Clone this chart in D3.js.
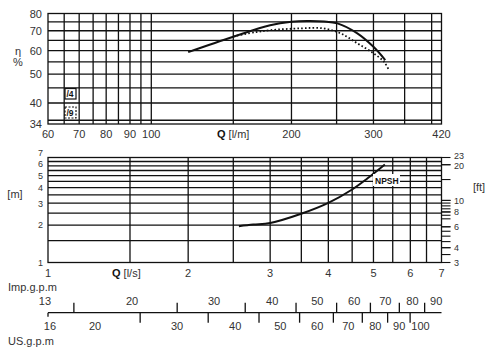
<!DOCTYPE html>
<html lang="en">
<head>
<meta charset="utf-8">
<title>Pump curves</title>
<script src="https://d3js.org/d3.v7.min.js"></script>
<style>
  body { margin: 0; background: #fff; }
  text { font-family: "Liberation Sans", Arial, sans-serif; font-size: 11px; fill: #333; }
  .grid { stroke: #111; stroke-width: 1.3; fill: none; }
  .small { font-size: 8.5px; font-weight: bold; fill: #111; }
  .tight { font-size: 9px; }
</style>
</head>
<body>
<script>
// efficiency curves, Q in l/min, eta in %
const effQ4 = [120, 150, 180, 200, 216, 235, 251, 277, 300, 318];
const eff4  = [59.3, 66.8, 73.0, 75.0, 75.5, 75.2, 74.1, 68.6, 61.8, 55.8];
const effQ9 = [150, 168, 180, 209, 234, 255, 277, 300, 316, 323];
const eff9  = [67.0, 69.3, 70.3, 71.3, 71.3, 68.6, 63.5, 58.8, 55.1, 52.0];

// NPSH curve, Q in l/s, H in m
const npshQ = [2.57, 2.76, 3.0, 3.51, 4.0, 4.5, 4.85, 5.29];
const npshH = [1.96, 2.02, 2.08, 2.48, 3.02, 3.87, 4.74, 6.15];

// grids and ticks
const topGridQ = [65, 70, 75, 80, 85, 90, 95, 100, 150, 200, 250, 300, 350, 400];
const topTickQ = [60, 70, 80, 90, 100, 200, 300, 420];
const topGridEta = [35, 40, 45, 50, 55, 60, 65, 70, 75];
const topTickEta = [34, 40, 50, 60, 70, 80];
const botGridQ = [1.5, 2, 2.5, 3, 3.5, 4, 4.5, 5, 5.5, 6, 6.5];
const botTickQ = [1, 2, 3, 4, 5, 6, 7];
const botGridH = [1.5, 2, 2.5, 3, 3.5, 4, 4.5, 5, 5.5, 6, 6.5];
const botTickH = [1, 2, 3, 4, 5, 6, 7];
const ftTicks = [20, 15, 10, 9.5, 9, 8.5, 8, 7.5, 7, 6, 5.5, 5, 4.5, 4, 3.5];
const ftLabels = [23, 20, 10, 8, 6, 4, 3];
const impLabels = [13, 20, 30, 40, 50, 60, 70, 80, 90];
const impTicks = [15, 25, 35, 45, 55, 65, 75, 85];
const usLabels = [16, 20, 30, 40, 50, 60, 70, 80, 90, 100];
const usTicks = [25, 35, 45, 55, 65, 75, 85, 95];

const w = 492, h = 352;
const L = 48, R = 441.5;

const svg = d3.select("body").append("svg").attr("width", w).attr("height", h);

const xTop = d3.scaleLog().domain([60, 420]).range([L, R]);
const yTop = d3.scaleLog().domain([34, 80]).range([124, 13.5]);
const xBot = d3.scaleLog().domain([1, 7]).range([L, R]);
const yBot = d3.scaleLog().domain([1, 7]).range([262.5, 157.5]);
const yFt = d3.scaleLog().domain([3, 23]).range([262.5, 157.5]);
const xImp = d3.scaleLog().domain([13.198, 13.198 * 7]).range([L, R]);
const xUs = d3.scaleLog().domain([15.85, 15.85 * 7]).range([L, R]);

// ---- top chart ----
const gTop = svg.append("g");
gTop.selectAll("line.v").data(topGridQ).enter().append("line").attr("class", "grid")
  .attr("x1", d => xTop(d)).attr("x2", d => xTop(d)).attr("y1", yTop(80)).attr("y2", yTop(34));
gTop.selectAll("line.h").data(topGridEta).enter().append("line").attr("class", "grid")
  .attr("x1", L).attr("x2", R).attr("y1", d => yTop(d)).attr("y2", d => yTop(d));
gTop.append("rect").attr("class", "grid")
  .attr("x", L).attr("y", yTop(80)).attr("width", R - L).attr("height", yTop(34) - yTop(80));

gTop.selectAll("text.xt").data(topTickQ).enter().append("text")
  .attr("x", d => xTop(d)).attr("y", 138).attr("text-anchor", "middle").text(d => d);
gTop.selectAll("text.yt").data(topTickEta).enter().append("text")
  .attr("x", 42).attr("y", d => yTop(d) + 4).attr("text-anchor", "end").text(d => d);

const ql = gTop.append("text").attr("x", 217).attr("y", 138);
ql.append("tspan").attr("font-weight", "bold").attr("fill", "#111").text("Q");
ql.append("tspan").text(" [l/m]");
gTop.append("text").attr("x", 18).attr("y", 55).attr("text-anchor", "middle").text("η");
gTop.append("text").attr("x", 18).attr("y", 66).attr("text-anchor", "middle").attr("font-size", "10px").text("%");

const lineTop = d3.line().x(d => xTop(d[0])).y(d => yTop(d[1])).curve(d3.curveCatmullRom.alpha(0.5));
gTop.append("path").attr("d", lineTop(d3.zip(effQ4, eff4)))
  .attr("fill", "none").attr("stroke", "#111").attr("stroke-width", 2);
gTop.append("path").attr("d", lineTop(d3.zip(effQ9, eff9)))
  .attr("fill", "none").attr("stroke", "#111").attr("stroke-width", 1.8)
  .attr("stroke-dasharray", "1.6,2.2");

// legend boxes
gTop.append("rect").attr("x", 65).attr("y", 88.5).attr("width", 11).attr("height", 10.5)
  .attr("fill", "#fff").attr("stroke", "#111").attr("stroke-width", 1.2);
gTop.append("text").attr("class", "small").attr("x", 66.5).attr("y", 97).text("/4");
gTop.append("rect").attr("x", 65).attr("y", 107).attr("width", 11).attr("height", 11)
  .attr("fill", "#fff").attr("stroke", "#111").attr("stroke-width", 1.2).attr("stroke-dasharray", "2,1.5");
gTop.append("text").attr("class", "small").attr("x", 66.5).attr("y", 116).text("/9");

// ---- bottom chart ----
const gBot = svg.append("g");
gBot.selectAll("line.v").data(botGridQ).enter().append("line").attr("class", "grid")
  .attr("x1", d => xBot(d)).attr("x2", d => xBot(d)).attr("y1", yBot(7)).attr("y2", yBot(1));
gBot.selectAll("line.h").data(botGridH).enter().append("line").attr("class", "grid")
  .attr("x1", L).attr("x2", R).attr("y1", d => yBot(d)).attr("y2", d => yBot(d));
gBot.append("rect").attr("class", "grid")
  .attr("x", L).attr("y", yBot(7)).attr("width", R - L).attr("height", yBot(1) - yBot(7));

gBot.selectAll("text.xt").data(botTickQ).enter().append("text")
  .attr("x", d => xBot(d)).attr("y", 277).attr("text-anchor", "middle").text(d => d);
// crowded labels near the top are nudged apart like in the print
const hNudge = {7: -4.7, 6: -1.8, 5: 0.3};
gBot.selectAll("text.yt").data(botTickH).enter().append("text")
  .attr("class", "tight")
  .attr("x", 43).attr("y", d => yBot(d) + 3.3 + (hNudge[d] || 0))
  .attr("text-anchor", "end").text(d => d);

const qs = gBot.append("text").attr("x", 112).attr("y", 277);
qs.append("tspan").attr("font-weight", "bold").attr("fill", "#111").text("Q");
qs.append("tspan").text(" [l/s]");
gBot.append("text").attr("x", 15).attr("y", 198).attr("text-anchor", "middle").text("[m]");
gBot.append("text").attr("x", 479).attr("y", 191).attr("text-anchor", "middle").text("[ft]");

// right ft axis
gBot.selectAll("line.ft").data(ftTicks.concat(ftLabels)).enter().append("line")
  .attr("x1", R).attr("x2", R + 9).attr("y1", d => yFt(d)).attr("y2", d => yFt(d))
  .attr("stroke", "#111").attr("stroke-width", 1.1);
const ftNudge = {23: -1.8, 20: 1.4};
gBot.selectAll("text.ft").data(ftLabels).enter().append("text")
  .attr("class", "tight")
  .attr("x", 454).attr("y", d => yFt(d) + 3.3 + (ftNudge[d] || 0)).text(d => d);

const lineBot = d3.line().x(d => xBot(d[0])).y(d => yBot(d[1])).curve(d3.curveCatmullRom.alpha(0.5));
gBot.append("path").attr("d", lineBot(d3.zip(npshQ, npshH)))
  .attr("fill", "none").attr("stroke", "#111").attr("stroke-width", 2);

gBot.append("rect").attr("x", 373).attr("y", 174).attr("width", 27).attr("height", 12).attr("fill", "#fff");
gBot.append("text").attr("class", "small").attr("x", 375).attr("y", 183.5).text("NPSH");

// ---- flow conversion scale ----
const conv = svg.append("g");
const yl = 312.7;
conv.append("line").attr("x1", L).attr("x2", R).attr("y1", yl).attr("y2", yl)
  .attr("stroke", "#111").attr("stroke-width", 1.3);
conv.append("line").attr("x1", L).attr("x2", L).attr("y1", yl).attr("y2", yl + 4)
  .attr("stroke", "#111").attr("stroke-width", 1.3);
conv.selectAll("line.imp").data(impTicks).enter().append("line")
  .attr("x1", d => xImp(d)).attr("x2", d => xImp(d)).attr("y1", yl - 10).attr("y2", yl)
  .attr("stroke", "#111").attr("stroke-width", 1.3);
conv.selectAll("line.us").data(usTicks).enter().append("line")
  .attr("x1", d => xUs(d)).attr("x2", d => xUs(d)).attr("y1", yl).attr("y2", yl + 10)
  .attr("stroke", "#111").attr("stroke-width", 1.3);
conv.selectAll("text.imp").data(impLabels).enter().append("text")
  .attr("x", d => xImp(d)).attr("y", 305).attr("text-anchor", "middle").text(d => d);
conv.selectAll("text.us").data(usLabels).enter().append("text")
  .attr("x", d => xUs(d)).attr("y", 330).attr("text-anchor", "middle").text(d => d);
conv.append("text").attr("x", 8).attr("y", 290.5).text("Imp.g.p.m");
conv.append("text").attr("x", 8).attr("y", 344.5).text("US.g.p.m");
</script>
</body>
</html>
